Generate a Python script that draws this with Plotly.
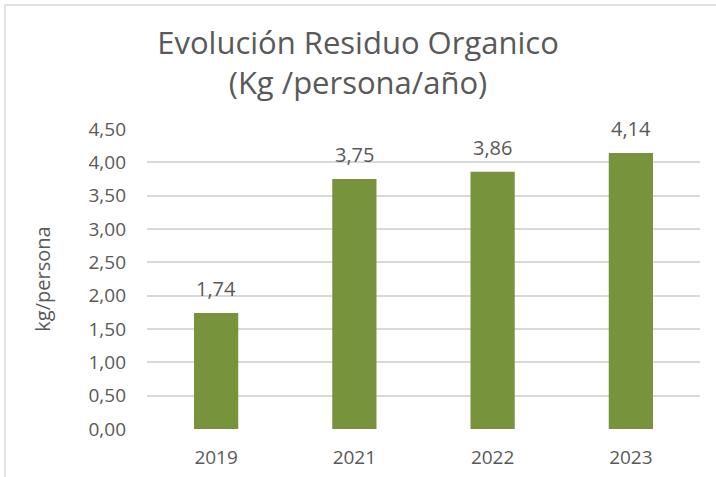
import plotly.graph_objects as go

years = ["2019", "2021", "2022", "2023"]
kg_per_person = [1.74, 3.75, 3.86, 4.14]
y_ticks = [0, 0.5, 1.0, 1.5, 2.0, 2.5, 3.0, 3.5, 4.0, 4.5]

W, H = 716, 477
L, R, T, B = 147, 16, 129, 48
pw, ph = W - L - R, H - T - B
GREY = "#595959"

def px_x(p):
    return (p - L) / pw

def px_y(p):
    return (H - B - p) / ph

fig = go.Figure(
    go.Bar(
        x=years,
        y=kg_per_person,
        marker=dict(color="#77933C", line=dict(width=0)),
        width=0.32,
    )
)

# value labels above each bar
for i, v in enumerate(kg_per_person):
    fig.add_annotation(
        x=i,
        y=v,
        xref="x",
        yref="y",
        text=f"{v:.2f}".replace(".", ","),
        showarrow=False,
        yanchor="bottom",
        yshift=9,
        font=dict(size=20, color=GREY, family="Open Sans"),
    )

fig.update_layout(
    width=W,
    height=H,
    margin=dict(l=L, r=R, t=T, b=B, autoexpand=False),
    paper_bgcolor="white",
    plot_bgcolor="white",
    separators=",.",
    showlegend=False,
    font=dict(family="Open Sans", color=GREY),
    title=dict(
        text="Evolución Residuo Organico<br>(Kg /persona/año)",
        x=0.5,
        xanchor="center",
        y=1 - 54 / H,
        yanchor="middle",
        font=dict(size=31, color=GREY, family="Open Sans"),
    ),
    xaxis=dict(
        type="category",
        range=[-0.5, 3.5],
        automargin=False,
        showgrid=False,
        showline=False,
        zeroline=False,
        ticks="",
        tickfont=dict(size=19, color=GREY),
        ticklabelstandoff=15,
    ),
    yaxis=dict(
        range=[0, 4.5],
        automargin=False,
        tickvals=y_ticks,
        tickformat=".2f",
        showgrid=True,
        gridcolor="#D9D9D9",
        gridwidth=1.5,
        zeroline=False,
        showline=False,
        ticks="",
        ticklabelstandoff=20,
        tickfont=dict(size=19, color=GREY),
        title=dict(text="kg/persona", font=dict(size=20, color=GREY), standoff=32),
    ),
    shapes=[
        dict(
            type="rect",
            xref="paper",
            yref="paper",
            x0=px_x(5),
            x1=px_x(730),
            y0=px_y(490),
            y1=px_y(5),
            line=dict(color="#D9D9D9", width=1.5),
            fillcolor="rgba(0,0,0,0)",
            layer="below",
        )
    ],
)

fig.write_html("out.html")
